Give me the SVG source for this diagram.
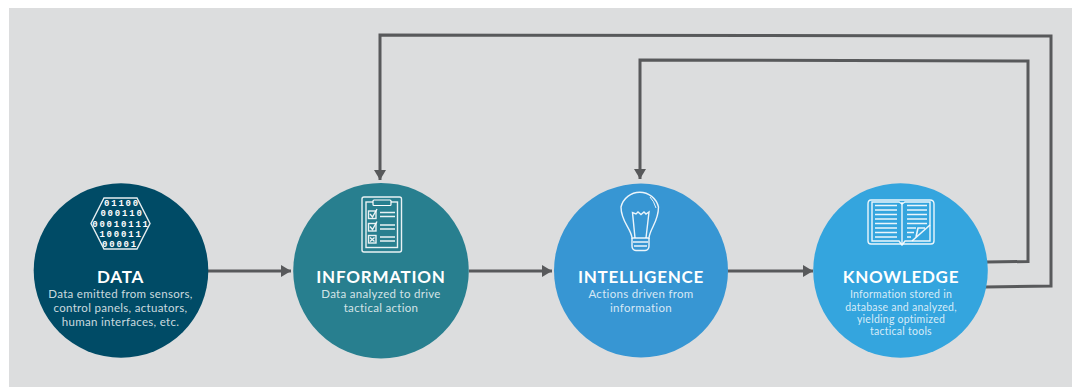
<svg xmlns="http://www.w3.org/2000/svg" width="1074" height="387" viewBox="0 0 1074 387">
<defs>
<marker id="ah" markerUnits="userSpaceOnUse" markerWidth="11" markerHeight="12" refX="10" refY="6" orient="auto"><path d="M0 0L10 6L0 12z" fill="#58595b"/></marker>
<clipPath id="hex"><path d="M104 198H137L150 223.500L137 249H104L91 223.500Z"/></clipPath>
</defs>
<style>
.t{font-family:"Lato","Liberation Sans",sans-serif;font-weight:700;font-size:17px;fill:#fff;text-anchor:middle;letter-spacing:.75px}
.b{font-family:"Lato","Liberation Sans",sans-serif;font-size:11.5px;fill:#fff;fill-opacity:.8;text-anchor:middle;letter-spacing:.3px}
.s{font-size:10.5px;letter-spacing:.25px}
.c{fill:none;stroke:#58595b;stroke-width:3}
.i{fill:none;stroke:#fff;stroke-width:1.4;stroke-opacity:.9}
.d{font-family:"Liberation Mono",monospace;font-weight:700;font-size:9px;fill:#fff;text-anchor:middle;letter-spacing:1.8px}
</style>
<rect width="1074" height="387" fill="#fff"/>
<rect x="9" y="8" width="1063" height="379" fill="#dcddde"/>
<g id="connectors">
<path class="c" marker-end="url(#ah)" d="M208 271H291"/>
<path class="c" marker-end="url(#ah)" d="M469 271H552"/>
<path class="c" marker-end="url(#ah)" d="M728 271H813"/>
<path class="c" marker-end="url(#ah)" d="M987 262L1028 261.500V61L640 60V179"/>
<path class="c" marker-end="url(#ah)" d="M985 287L1051 286V36L380 35V180"/>
</g>
<g id="data">
<circle cx="121" cy="270.500" r="87.300" fill="#004b66"/>
<path class="i" d="M104 198H137L150 223.500L137 249H104L91 223.500Z"/>
<g clip-path="url(#hex)">
<text class="d" x="122" y="205.500">01100</text>
<text class="d" x="122" y="216">000110</text>
<text class="d" x="121" y="226.500">00010111</text>
<text class="d" x="121" y="237">100011</text>
<text class="d" x="120" y="247">00001</text>
</g>
<text class="t" x="120.500" y="283">DATA</text>
<text class="b" x="120.500" y="297.500">Data emitted from sensors,</text>
<text class="b" x="120.500" y="312">control panels, actuators,</text>
<text class="b" x="120.500" y="326">human interfaces, etc.</text>
</g>
<g id="information">
<circle cx="381" cy="270.700" r="87.800" fill="#287f8f"/>
<rect class="i" x="362" y="197" width="39.500" height="55" rx="2"/>
<rect class="i" x="366" y="202" width="31.500" height="45.500"/>
<rect x="373" y="200" width="18" height="5.500" rx="1" fill="#287f8f" stroke="#fff" stroke-width="1.200"/>
<g class="i">
<rect x="368.500" y="211" width="7.500" height="7.500"/><rect x="368.500" y="223.500" width="7.500" height="7.500"/><rect x="368.500" y="235.500" width="7.500" height="7.500"/>
<path d="M380 212.500H395M380 216.500H395M380 225H395M380 229H395M380 237H395M380 241H395"/>
<path d="M370 214L372.500 217L377 209M370 226.500L372.500 229.500L377 221.500M370 237.500L374.500 241.500M374.500 237.500L370 241.500"/>
</g>
<text class="t" x="381" y="283">INFORMATION</text>
<text class="b" x="381" y="297.500">Data analyzed to drive</text>
<text class="b" x="381" y="312">tactical action</text>
</g>
<g id="intelligence">
<circle cx="641" cy="270.500" r="87" fill="#3796d3"/>
<g class="i">
<path d="M632 238C631 228 621 222 621 207A19.300 19.300 0 0 1 658.500 207C658.500 222 650 228 649 238Z"/>
<path d="M635 238L632.500 212.500L636 214L638 212L641 214.500L644 212L646 214L649 212L646 238"/>
<path d="M632 238V246Q632 250 636 250.500H645Q649 250 649 246V238M633 242H648M634 246H647"/>
<path d="M650 197Q654 201 656 208" stroke-width="1"/>
</g>
<text class="t" x="641" y="283">INTELLIGENCE</text>
<text class="b" x="641" y="297.500">Actions driven from</text>
<text class="b" x="641" y="312">information</text>
</g>
<g id="knowledge">
<circle cx="900.500" cy="270.500" r="87.300" fill="#34a5de"/>
<g class="i">
<path d="M902 202V243"/>
<path d="M871 200H930Q934 200 934 204V241Q934 244 931 244H871Q868 244 868 241V204Q868 200 871 200Z"/>
<path d="M872 202V241H899L902 245L905 241H930V202H905L902 204L899 202Z"/>
<path d="M875 205.500H897M875 210H897M875 214.500H897M875 219H897M875 223.500H897M875 228H897M875 232.500H897M875 237H897M907 205.500H927M907 210H927M907 214.500H927M907 219H927M907 223.500H927M907 228H916M907 232.500H914M907 237H911"/>
<path d="M912 241L930 225M916 237L918 228H925" stroke-width="1.600"/>
</g>
<text class="t" x="901" y="283">KNOWLEDGE</text>
<text class="b s" x="901" y="298">Information stored in</text>
<text class="b s" x="901" y="311">database and analyzed,</text>
<text class="b s" x="901" y="322.500">yielding optimized</text>
<text class="b s" x="901" y="335">tactical tools</text>
</g>
</svg>
